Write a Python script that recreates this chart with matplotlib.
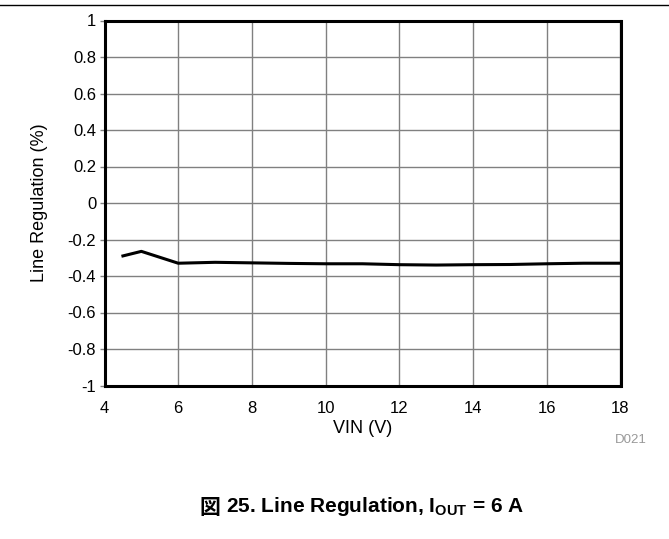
import numpy as np
import matplotlib
matplotlib.use('Agg')
import matplotlib.pyplot as plt

# Данные
vin = [4.5, 5, 6, 7, 8, 9, 10, 11, 12, 13, 14, 15, 16, 17, 18]
line_reg = [-0.29, -0.265, -0.33, -0.325, -0.328, -0.331, -0.333, -0.333,
            -0.338, -0.340, -0.338, -0.337, -0.333, -0.330, -0.330]
x_ticks = [4, 6, 8, 10, 12, 14, 16, 18]
y_ticks = [1, 0.8, 0.6, 0.4, 0.2, 0, -0.2, -0.4, -0.6, -0.8, -1]

plt.rcParams['font.family'] = ['Liberation Sans', 'Noto Sans CJK JP', 'DejaVu Sans']
plt.rcParams['mathtext.fontset'] = 'custom'
plt.rcParams['mathtext.rm'] = 'Liberation Sans'
plt.rcParams['mathtext.bf'] = 'Liberation Sans:bold'

W, H = 669, 539
fig = plt.figure(figsize=(W / 100, H / 100), dpi=100)
ax = fig.add_axes([104.5 / W, 1 - 385.5 / H, 516 / W, 365 / H])

ax.plot(vin, line_reg, color='black', linewidth=2.2)

ax.set_xlim(4, 18)
ax.set_ylim(-1, 1)
ax.set_xticks(x_ticks)
ax.set_yticks(y_ticks)
ax.set_yticklabels([f'{v:g}' for v in y_ticks])
ax.grid(True, color='#808080', linewidth=1)
ax.tick_params(axis='x', length=0, labelsize=12, pad=11)
ax.tick_params(axis='y', length=3.5, width=1, color='#808080', direction='out',
               labelsize=12, pad=2.5)
for s in ax.spines.values():
    s.set_linewidth(2.2)

ax.set_xlabel('VIN (V)', fontsize=13, labelpad=3)
ax.set_ylabel('Line Regulation (%)', fontsize=13, labelpad=14)

# Верхняя линия страницы
fig.add_artist(plt.Line2D([0, 1], [1 - 5 / H, 1 - 5 / H], color='black', linewidth=1))

fig.text(647 / W, 1 - 440 / H, 'D021', ha='right', va='center', fontsize=9.5, color='#999999')

# Подпись: иероглиф отдельно (mathtext не умеет fallback)
cap_y = 1 - 507 / H
t1 = fig.text(199 / W, cap_y, '図', ha='left', va='center', fontsize=15,
              fontweight='bold', family=['Noto Sans CJK JP', 'DejaVu Sans'])
r = fig.canvas.get_renderer()
x1 = t1.get_window_extent(r).x1
fig.text((x1 + 6) / W, cap_y, r'25. Line Regulation, I$_{\mathbf{OUT}}$ = 6 A',
         ha='left', va='center', fontsize=15, fontweight='bold')

fig.savefig('out.png', dpi=100)
